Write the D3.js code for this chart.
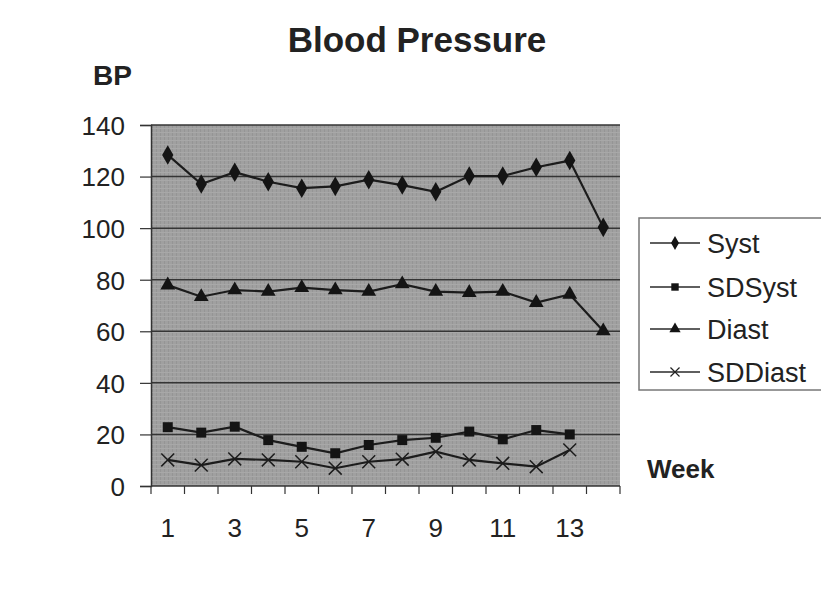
<!DOCTYPE html>
<html>
<head>
<meta charset="utf-8">
<script src="https://cdnjs.cloudflare.com/ajax/libs/d3/7.8.5/d3.min.js"></script>
<style>
  body { margin: 0; background: #fff; }
  text { font-family: "Liberation Sans", Arial, sans-serif; fill: #222; }
</style>
</head>
<body>
<div id="chart"></div>
<script>
// data
var weeks = [1, 2, 3, 4, 5, 6, 7, 8, 9, 10, 11, 12, 13, 14];
var syst = [128.4, 117.1, 121.7, 118.0, 115.5, 116.2, 118.8, 116.7, 114.1, 120.2, 120.2, 123.6, 126.2, 100.3];
var sdSyst = [22.8, 20.7, 23.0, 17.8, 15.2, 12.7, 15.9, 17.8, 18.7, 21.1, 18.1, 21.7, 20.0, null];
var diast = [77.9, 73.4, 76.0, 75.4, 76.9, 76.0, 75.4, 78.3, 75.4, 75.0, 75.4, 71.1, 74.3, 60.1];
var sdDiast = [10.1, 8.1, 10.5, 10.1, 9.4, 6.9, 9.4, 10.4, 13.3, 10.1, 8.8, 7.5, 14.0, null];
var seriesNames = ["Syst", "SDSyst", "Diast", "SDDiast"];
var yTicks = [0, 20, 40, 60, 80, 100, 120, 140];
var xLabels = [1, 3, 5, 7, 9, 11, 13];

var width = 821,
  height = 604,
  plot = { left: 151, right: 620, top: 125, bottom: 486 };

var svg = d3.select("#chart").append("svg")
  .attr("width", width)
  .attr("height", height);

var x = d3.scaleBand()
  .domain(weeks)
  .range([plot.left, plot.right]);

var y = d3.scaleLinear()
  .domain([0, 140])
  .range([plot.bottom, plot.top]);

// grey plot area with a faint screen texture
var defs = svg.append("defs");
var pat = defs.append("pattern")
  .attr("id", "screen")
  .attr("width", 4)
  .attr("height", 4)
  .attr("patternUnits", "userSpaceOnUse");
pat.append("rect").attr("width", 4).attr("height", 4).attr("fill", "#a0a0a0");
pat.append("rect").attr("width", 1).attr("height", 4).attr("fill", "#959595");
pat.append("rect").attr("width", 4).attr("height", 1).attr("fill", "#a8a8a8");

svg.append("rect")
  .attr("x", plot.left)
  .attr("y", plot.top)
  .attr("width", plot.right - plot.left)
  .attr("height", plot.bottom - plot.top)
  .attr("fill", "url(#screen)");

// gridlines
svg.selectAll(".grid")
  .data(yTicks.filter(function (d) { return d > 0; }))
  .enter()
  .append("line")
  .attr("class", "grid")
  .attr("x1", plot.left)
  .attr("x2", plot.right)
  .attr("y1", function (d) { return y(d); })
  .attr("y2", function (d) { return y(d); })
  .style("stroke", "#353535")
  .style("stroke-width", 1.5);

// y axis
var yAxis = svg.append("g")
  .attr("transform", "translate(" + plot.left + ",0)")
  .call(d3.axisLeft(y).tickValues(yTicks).tickSize(11).tickPadding(15));
yAxis.select(".domain").style("stroke", "#333").style("stroke-width", 1.5);
yAxis.selectAll(".tick line").style("stroke", "#333").style("stroke-width", 1.2);
yAxis.selectAll(".tick text")
  .style("font-size", "26px")
  .style("fill", "#222")
  .attr("dy", "0.36em");

// x axis: ticks between weeks, labels on odd weeks
var xAxisG = svg.append("g")
  .attr("transform", "translate(0," + plot.bottom + ")");
xAxisG.append("line")
  .attr("x1", plot.left)
  .attr("x2", plot.right)
  .style("stroke", "#333")
  .style("stroke-width", 1.5);
xAxisG.selectAll(".xt")
  .data(weeks.concat([0]))
  .enter()
  .append("line")
  .attr("class", "xt")
  .attr("x1", function (d) { return d === 0 ? plot.left : x(d) + x.bandwidth(); })
  .attr("x2", function (d) { return d === 0 ? plot.left : x(d) + x.bandwidth(); })
  .attr("y1", 0)
  .attr("y2", 8)
  .style("stroke", "#333")
  .style("stroke-width", 1.2);
xAxisG.selectAll(".xl")
  .data(xLabels)
  .enter()
  .append("text")
  .attr("class", "xl")
  .attr("x", function (d) { return x(d) + x.bandwidth() / 2; })
  .attr("y", 51)
  .attr("text-anchor", "middle")
  .style("font-size", "26px")
  .text(function (d) { return d; });

// titles
svg.append("text")
  .attr("x", 417)
  .attr("y", 52)
  .attr("text-anchor", "middle")
  .style("font-size", "35px")
  .style("font-weight", "bold")
  .text("Blood Pressure");

svg.append("text")
  .attr("x", 93)
  .attr("y", 85)
  .style("font-size", "28px")
  .style("font-weight", "bold")
  .text("BP");

svg.append("text")
  .attr("x", 647)
  .attr("y", 478)
  .style("font-size", "26px")
  .style("font-weight", "bold")
  .text("Week");

// markers
var symbols = [
  d3.symbol().type(d3.symbolDiamond).size(110),
  d3.symbol().type(d3.symbolSquare).size(100),
  d3.symbol().type(d3.symbolTriangle).size(95),
  d3.symbol().type(d3.symbolX).size(110)
];
var allSeries = [syst, sdSyst, diast, sdDiast];

var line = d3.line()
  .defined(function (d) { return d != null; })
  .x(function (d, i) { return x(weeks[i]) + x.bandwidth() / 2; })
  .y(function (d) { return y(d); });

allSeries.forEach(function (values, s) {
  svg.append("path")
    .datum(values)
    .attr("d", line)
    .style("fill", "none")
    .style("stroke", "#1c1c1c")
    .style("stroke-width", 2.2);

  svg.selectAll(".m" + s)
    .data(values.map(function (v, i) { return { v: v, w: weeks[i] }; })
      .filter(function (d) { return d.v != null; }))
    .enter()
    .append("path")
    .attr("class", "m" + s)
    .attr("d", symbols[s])
    .attr("transform", function (d) {
      return "translate(" + (x(d.w) + x.bandwidth() / 2) + "," + y(d.v) + ")";
    })
    .style("fill", "#141414")
    .style("stroke", s === 3 ? "#1c1c1c" : "none")
    .style("stroke-width", 1.5);
});

// legend
var legend = svg.append("g");
legend.append("rect")
  .attr("x", 639)
  .attr("y", 218)
  .attr("width", 200)
  .attr("height", 172)
  .style("fill", "#fff")
  .style("stroke", "#777")
  .style("stroke-width", 1.5);

var legendY = [243, 287, 329, 372];
seriesNames.forEach(function (name, s) {
  var g = legend.append("g").attr("transform", "translate(0," + legendY[s] + ")");
  g.append("line")
    .attr("x1", 650)
    .attr("x2", 700)
    .style("stroke", "#2a2a2a")
    .style("stroke-width", 1.6);
  g.append("path")
    .attr("d", d3.symbol().type(symbols[s].type()).size(55))
    .attr("transform", "translate(675,0)")
    .style("fill", "#141414")
    .style("stroke", s === 3 ? "#222" : "none")
    .style("stroke-width", 1.2);
  g.append("text")
    .attr("x", 707)
    .attr("y", 10)
    .style("font-size", "27px")
    .text(name);
});
</script>
</body>
</html>
